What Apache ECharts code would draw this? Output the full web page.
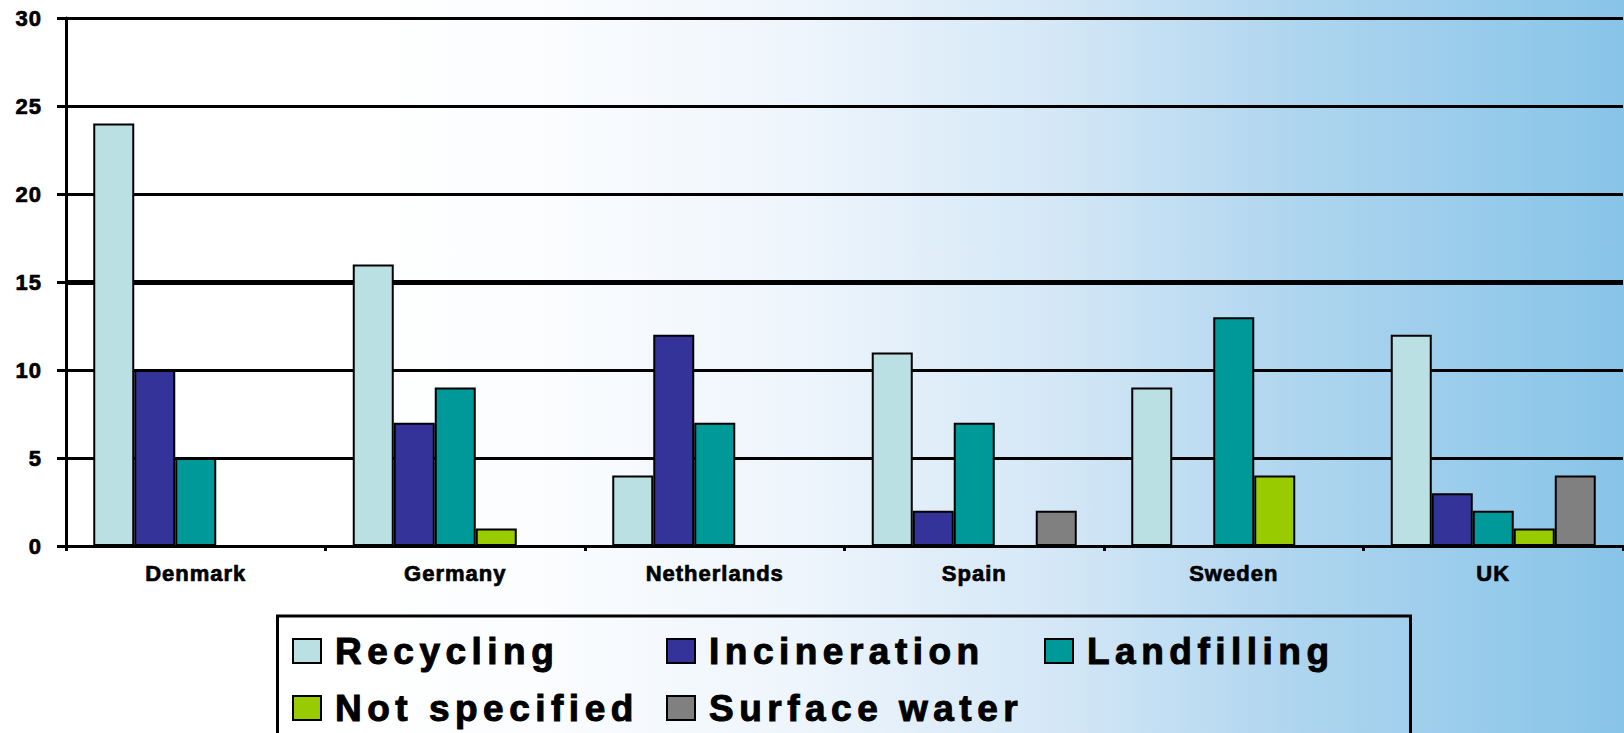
<!DOCTYPE html>
<html><head><meta charset="utf-8">
<script src="https://cdn.jsdelivr.net/npm/echarts@6/dist/echarts.min.js"></script>
<style>
html,body{margin:0;padding:0;overflow:hidden;}
#chart{width:1624px;height:733px;background:linear-gradient(to right,#ffffff 0%,#ffffff 22%,#fafcfe 34%,#eef5fc 49%,#d4e7f6 65%,#aed5ef 80%,#87c4e8 100%);}
</style></head><body><div id="chart"></div>
<script>
const categories = ['Denmark', 'Germany', 'Netherlands', 'Spain', 'Sweden', 'UK'];
const recycling = [24, 16, 4, 11, 9, 12];
const incineration = [10, 7, 12, 2, 0, 3];
const landfilling = [5, 9, 7, 7, 13, 2];
const notSpecified = [0, 1, 0, 0, 4, 1];
const surfaceWater = [0, 0, 0, 2, 0, 4];
const seriesNames = ['Recycling', 'Incineration', 'Landfilling', 'Not specified', 'Surface water'];
const yMin = 0, yMax = 30, yStep = 5;

const colors = ['#BBE0E3', '#333399', '#009999', '#99CC00', '#808080'];
const allValues = [recycling, incineration, landfilling, notSpecified, surfaceWater];
const FONT = "'Liberation Sans', Arial, sans-serif";

const chart = echarts.init(document.getElementById('chart'), null, {renderer: 'svg'});

const legendPos = [[292, 632], [666, 632], [1044, 632], [292, 689], [666, 689]];

const series = allValues.map((d, i) => {
  const s = {
    name: seriesNames[i], type: 'bar', data: d,
    barWidth: 41, barGap: '0%',
    itemStyle: {color: colors[i], borderColor: '#000', borderWidth: 2},
    emphasis: {disabled: true},
    animation: false
  };
  if (i === 0) {
    s.markLine = {
      silent: true, symbol: 'none', z: 1, animation: false,
      label: {show: false},
      lineStyle: {color: '#000', width: 5, type: 'solid'},
      data: [{yAxis: 15}]
    };
  }
  return s;
});

const option = {
  animation: false,
  backgroundColor: 'transparent',
  grid: {left: 66, right: 1, top: 18, bottom: 187, containLabel: false},
  xAxis: {
    type: 'category', data: categories,
    axisLine: {show: true, lineStyle: {color: '#000', width: 3}},
    axisTick: {show: true, length: 5, lineStyle: {color: '#000', width: 3}},
    axisLabel: {color: '#000', fontFamily: FONT, fontWeight: 'bold', fontSize: 22, margin: 16, interval: 0,
      textBorderColor: '#000', textBorderWidth: 0.7},
    splitLine: {show: false}
  },
  yAxis: {
    type: 'value', min: yMin, max: yMax, interval: yStep,
    axisLine: {show: true, lineStyle: {color: '#000', width: 3}},
    axisTick: {show: true, length: 9, lineStyle: {color: '#000', width: 3}},
    axisLabel: {color: '#000', fontFamily: FONT, fontWeight: 'bold', fontSize: 22, margin: 24,
      textBorderColor: '#000', textBorderWidth: 0.7},
    splitLine: {show: true, lineStyle: {color: '#000', width: 3}}
  },
  legend: seriesNames.map((n, i) => ({
    data: [n], left: legendPos[i][0], top: legendPos[i][1],
    padding: 0, itemWidth: 28, itemHeight: 24, itemGap: 0,
    icon: 'rect', selectedMode: false,
    itemStyle: {borderColor: '#000', borderWidth: 2},
    textStyle: {fontFamily: FONT, fontWeight: 'bold', fontSize: 37, color: '#000', lineHeight: 24,
      padding: [0, 0, 0, 9], textBorderColor: '#000', textBorderWidth: 1}
  })),
  graphic: [{
    type: 'rect', silent: true, z: 0,
    shape: {x: 277.5, y: 616, width: 1133, height: 200},
    style: {fill: 'none', stroke: '#000', lineWidth: 3}
  }],
  series: series
};

chart.setOption(option);

function applySpacing() {
  document.querySelectorAll('#chart text').forEach(t => {
    const fs = parseFloat(getComputedStyle(t).fontSize);
    if (fs >= 30) t.style.letterSpacing = '5.5px';
    else if (fs >= 18) t.style.letterSpacing = '1px';
  });
}
applySpacing();
chart.on('finished', applySpacing);
setTimeout(applySpacing, 50);
</script>
</body></html>
